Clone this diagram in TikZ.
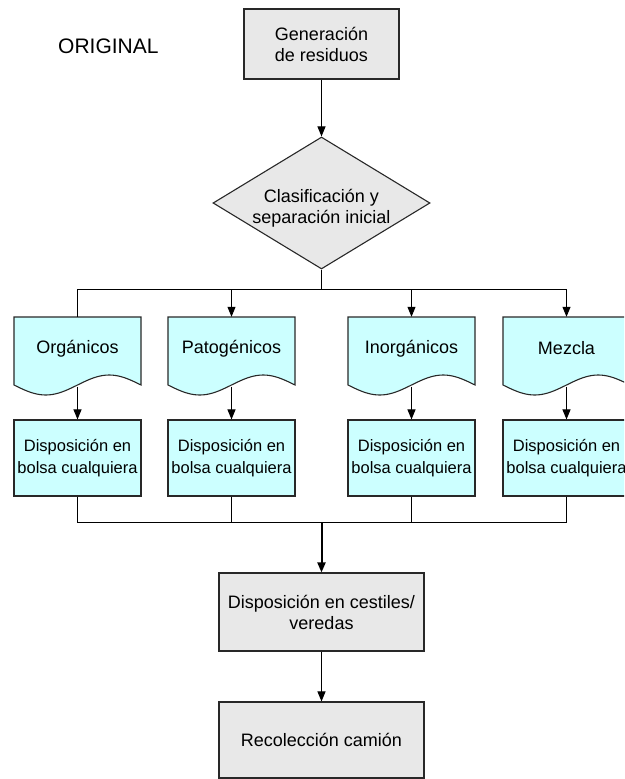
\documentclass[tikz,border=0pt]{standalone}
\usepackage{fontspec}
\setmainfont{Liberation Sans}
\usetikzlibrary{arrows.meta,shapes.geometric}
\definecolor{boxgray}{RGB}{232,232,232}
\definecolor{boxcyan}{RGB}{204,255,255}
\definecolor{edgeline}{RGB}{40,40,40}

% outline of a flowchart "document" symbol: flat top, wavy bottom
\newcommand\docoutline[1]{%
  \path[docshape] (#1,317) -- (#1+127,317) -- (#1+127,385)
    -- plot[domain=1:0,samples=41] ({#1+127*\x},{385+10*sin(360*\x)}) -- cycle;}

\begin{document}
\begin{tikzpicture}[x=1pt,y=-1pt,
  graybox/.style={draw=edgeline, fill=boxgray, line width=1.1pt, align=center,
    font=\fontsize{18}{21}\selectfont, inner sep=0pt},
  cyanbox/.style={draw=edgeline, fill=boxcyan, line width=1.1pt, align=center,
    minimum width=127pt, minimum height=76pt,
    font=\fontsize{16.5}{21.5}\selectfont, inner sep=0pt},
  doclabel/.style={align=center, minimum width=127pt, minimum height=63pt,
    font=\fontsize{18}{21}\selectfont, inner sep=0pt},
  docshape/.style={draw=edgeline, fill=boxcyan, line width=1.1pt},
  conn/.style={draw=black, line width=1pt},
  arrow/.style={conn, -{Triangle[length=10pt,width=8pt]}},
  thickarrow/.style={draw=black, line width=2pt, -{Triangle[length=10pt,width=8pt]}},
]
\useasboundingbox (0,0) rectangle (624,779);
\clip (0,0) rectangle (624,779);

% title
\node[font=\fontsize{21}{24}\selectfont, anchor=base west, inner sep=0pt]
  (orig) at (58,53) {ORIGINAL};

% top of the flow
\node[graybox, minimum width=155pt, minimum height=70pt] (gen) at (321.5,44)
  {Generación\\de residuos};
\node[diamond, draw=edgeline, fill=boxgray, line width=1.1pt, inner sep=0pt,
  minimum width=217pt, minimum height=132pt] (clas) at (321.5,203) {};
\node[align=center, font=\fontsize{18}{21}\selectfont, inner sep=0pt]
  (clastext) at (321.5,208) {Clasificación y\\separación inicial};

% document symbols for each type of waste
\docoutline{14}
\docoutline{168}
\docoutline{348}
\docoutline{503}
\node[doclabel] (org) at (77.5,348.5) {Orgánicos};
\node[doclabel] (pat) at (231.5,348.5) {Patogénicos};
\node[doclabel] (ino) at (411.5,348.5) {Inorgánicos};
\node[doclabel] (mez) at (566.5,348.5) {Mezcla};

% bagging boxes
\node[cyanbox] (orgbox) at (77.5,458) {Disposición en\\bolsa cualquiera};
\node[cyanbox] (patbox) at (231.5,458) {Disposición en\\bolsa cualquiera};
\node[cyanbox] (inobox) at (411.5,458) {Disposición en\\bolsa cualquiera};
\node[cyanbox] (mezbox) at (566.5,458) {Disposición en\\bolsa cualquiera};

% final steps
\node[graybox, minimum width=205pt, minimum height=78pt] (cest) at (321.5,612)
  {Disposición en cestiles/\\veredas};
\node[graybox, minimum width=205pt, minimum height=76pt] (rec) at (321.5,740)
  {Recolección camión};

% bus coordinates
\coordinate (bus) at (0,289);
\coordinate (bus2) at (0,522);

% connectors
\draw[arrow] (gen.south) -- (clas.north);
\draw[conn] (clas.south) -- (clas.south |- bus);
\draw[conn] (org.north |- bus) -- (mez.north |- bus);
\draw[conn] (org.north |- bus) -- (org.north);
\draw[arrow] (pat.north |- bus) -- (pat.north);
\draw[arrow] (ino.north |- bus) -- (ino.north);
\draw[arrow] (mez.north |- bus) -- (mez.north);

\draw[arrow] ([yshift=-6.5pt]org.south) -- (orgbox.north);
\draw[arrow] ([yshift=-6.5pt]pat.south) -- (patbox.north);
\draw[arrow] ([yshift=-6.5pt]ino.south) -- (inobox.north);
\draw[arrow] ([yshift=-6.5pt]mez.south) -- (mezbox.north);

\draw[conn] (orgbox.south) -- (orgbox.south |- bus2) -- (mezbox.south |- bus2) -- (mezbox.south);
\draw[conn] (patbox.south) -- (patbox.south |- bus2);
\draw[conn] (inobox.south) -- (inobox.south |- bus2);

\draw[thickarrow] (cest.north |- bus2) -- (cest.north);
\draw[arrow] (cest.south) -- (rec.north);
\end{tikzpicture}
\end{document}
